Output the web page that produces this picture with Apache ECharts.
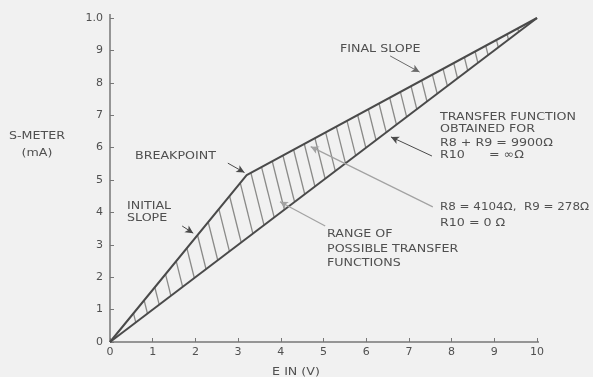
<!DOCTYPE html>
<html>
<head>
<meta charset="utf-8">
<script src="https://cdn.jsdelivr.net/npm/echarts@6/dist/echarts.min.js"></script>
<style>
  html, body { margin: 0; padding: 0; background: #f1f1f1; }
  #chart { width: 593px; height: 377px; }
</style>
</head>
<body>
<div id="chart"></div>
<script>
// Axis tick labels (the top mark of the S-meter scale is lettered "1.0")
const xTickLabels = ['0', '1', '2', '3', '4', '5', '6', '7', '8', '9', '10'];
const yTickLabels = ['0', '1', '2', '3', '4', '5', '6', '7', '8', '9', '1.0'];

// Transfer functions, [E in (V), S-meter (mA)]
const lowerCurve = [[0, 0], [10, 10]];               // R8 + R9 = 9900 ohm, R10 = infinite
const upperCurve = [[0, 0], [3.2, 5.15], [10, 10]];  // R8 = 4104, R9 = 278, R10 = 0

// Axis rules run slightly past the last tick
const xAxisRule = [[0, 0], [10.25, 0]];
const yAxisRule = [[0, 0], [0, 10.12]];

// Pointer lines for the callouts, [from, to] in data units
const finalSlopeArrow   = [[6.56, 8.83], [7.25, 8.33]];
const breakpointArrow   = [[2.76, 5.52], [3.15, 5.23]];
const initialSlopeArrow = [[1.69, 3.58], [1.95, 3.36]];
const noShuntArrow      = [[7.54, 5.74], [6.58, 6.33]];
const shuntLeader       = [[7.56, 4.17], [4.70, 6.03]];
const rangeLeader       = [[5.04, 3.58], [3.98, 4.33]];

const INK = '#4a4a4a';
const TEXT = '#505050';
const FONT = '11px "DejaVu Sans", sans-serif';

function interp(curve, x) {
  for (let i = 1; i < curve.length; i++) {
    const a = curve[i - 1], b = curve[i];
    if (x <= b[0]) return a[1] + (b[1] - a[1]) * (x - a[0]) / (b[0] - a[0]);
  }
  return curve[curve.length - 1][1];
}

// Where a ray T + s*d meets segment A-B (pixel space)
function hit(T, d, A, B) {
  const ex = B[0] - A[0], ey = B[1] - A[1];
  const rx = A[0] - T[0], ry = A[1] - T[1];
  const det = d[0] * (-ey) - (-ex) * d[1];
  if (Math.abs(det) < 1e-9) return null;
  const s = (rx * (-ey) - (-ex) * ry) / det;
  const u = (d[0] * ry - d[1] * rx) / det;
  if (u < -1e-6 || u > 1 + 1e-6 || s <= 0) return null;
  return [T[0] + s * d[0], T[1] + s * d[1]];
}

const HATCH_START = 0.55, HATCH_STEP = 0.25, HATCH_LEAN = 0.25;

function renderHatch(params, api) {
  const children = [];
  const lowPx = lowerCurve.map(p => api.coord(p));
  for (let x = HATCH_START; x < 9.9; x += HATCH_STEP) {
    const top = api.coord([x, interp(upperCurve, x)]);
    const dir = [HATCH_LEAN, 1];
    let end = null;
    for (let i = 1; i < lowPx.length && !end; i++) end = hit(top, dir, lowPx[i - 1], lowPx[i]);
    if (!end) continue;
    children.push({
      type: 'line',
      shape: { x1: top[0], y1: top[1], x2: end[0], y2: end[1] },
      style: { stroke: '#8a8a88', lineWidth: 1.3 }
    });
  }
  return { type: 'group', children };
}

function pointer(pair, color, width) {
  return [
    { coord: pair[0], lineStyle: { color: color, width: width, type: 'solid' } },
    { coord: pair[1] }
  ];
}

function label(text, x, y, opts) {
  return Object.assign({
    type: 'text', x: x, y: y, scaleX: 1.15,
    style: { text: text, font: FONT, fill: TEXT, textAlign: 'left', textVerticalAlign: 'middle' }
  }, opts || {});
}

function centred(text, x, y) {
  return label(text, x, y, {
    style: { text: text, font: FONT, fill: TEXT, textAlign: 'center', textVerticalAlign: 'middle' }
  });
}

const chart = echarts.init(document.getElementById('chart'), null, { renderer: 'canvas' });

chart.setOption({
  backgroundColor: '#f1f1f1',
  animation: false,
  grid: { left: 110, right: 56, top: 18, bottom: 35 },
  xAxis: {
    type: 'value', min: 0, max: 10, interval: 1,
    axisLine: { show: false },
    axisTick: { show: true, inside: true, length: 4, lineStyle: { color: '#777', width: 1 } },
    axisLabel: {
      margin: 5, color: TEXT, fontSize: 11, fontFamily: 'DejaVu Sans',
      formatter: v => xTickLabels[Math.round(v)]
    },
    splitLine: { show: false }
  },
  yAxis: {
    type: 'value', min: 0, max: 10, interval: 1,
    axisLine: { show: false },
    axisTick: { show: true, inside: true, length: 4, lineStyle: { color: '#777', width: 1 } },
    axisLabel: {
      margin: 7, color: TEXT, fontSize: 11, fontFamily: 'DejaVu Sans',
      formatter: v => yTickLabels[Math.round(v)]
    },
    splitLine: { show: false }
  },
  series: [
    {
      type: 'line', data: xAxisRule, symbol: 'none', clip: false, silent: true,
      lineStyle: { color: '#767676', width: 1.5 }
    },
    {
      type: 'line', data: yAxisRule, symbol: 'none', clip: false, silent: true,
      lineStyle: { color: '#767676', width: 1.5 }
    },
    {
      type: 'custom', renderItem: renderHatch, data: [[0, 0]], silent: true, z: 2
    },
    {
      type: 'line', data: upperCurve, symbol: 'none', silent: true, z: 3,
      lineStyle: { color: INK, width: 2 }
    },
    {
      type: 'line', data: lowerCurve, symbol: 'none', silent: true, z: 3,
      lineStyle: { color: INK, width: 2 },
      markLine: {
        silent: true, animation: false,
        symbol: ['none', 'arrow'], symbolSize: [6, 8],
        label: { show: false },
        emphasis: { disabled: true },
        data: [
          pointer(finalSlopeArrow, '#6a6a6a', 1),
          pointer(breakpointArrow, '#4a4a4a', 1),
          pointer(initialSlopeArrow, '#4a4a4a', 1),
          pointer(noShuntArrow, '#4a4a4a', 1),
          pointer(shuntLeader, '#a2a2a2', 1.2),
          pointer(rangeLeader, '#a2a2a2', 1.2)
        ]
      }
    }
  ],
  graphic: [
    centred('S-METER', 37, 136),
    centred('(mA)', 37, 153),
    centred('E IN (V)', 296, 372),
    label('FINAL SLOPE', 340, 49),
    label('BREAKPOINT', 135, 156),
    label('INITIAL', 127, 206),
    label('SLOPE', 127, 218),
    label('TRANSFER FUNCTION', 440, 117),
    label('OBTAINED FOR', 440, 129),
    label('R8 + R9 = 9900Ω', 440, 143),
    label('R10', 440, 155),
    label('= ∞Ω', 489, 155),
    label('R8 = 4104Ω,  R9 = 278Ω', 440, 207, { scaleX: 1.08 }),
    label('R10 = 0 Ω', 440, 223),
    label('RANGE OF', 327, 234),
    label('POSSIBLE TRANSFER', 327, 249),
    label('FUNCTIONS', 327, 263)
  ]
});
</script>
</body>
</html>
